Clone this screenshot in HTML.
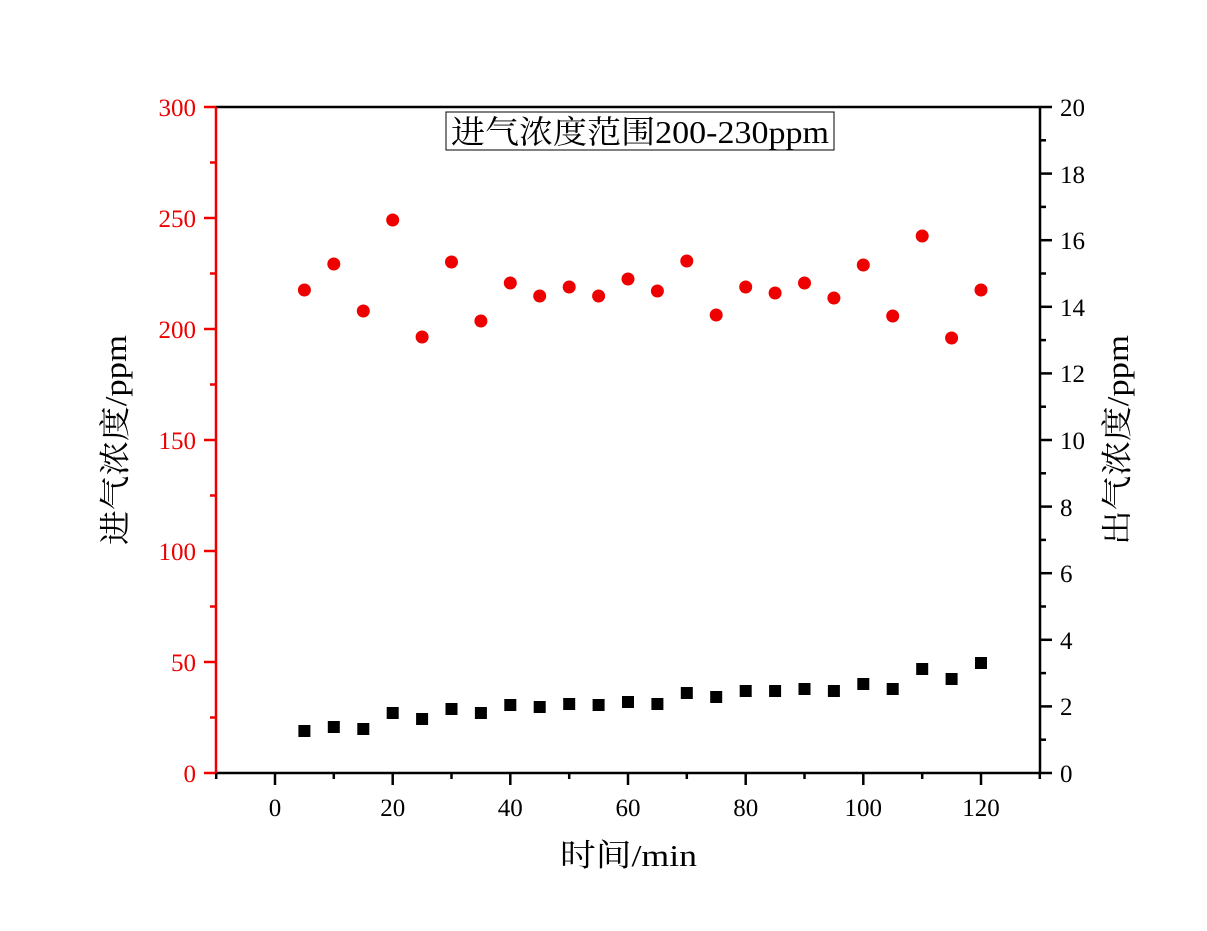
<!DOCTYPE html>
<html><head><meta charset="utf-8"><style>body{margin:0;background:#fff}</style></head><body>
<svg width="1207" height="926" xmlns="http://www.w3.org/2000/svg" font-family="Liberation Serif, Noto Serif CJK SC, serif">
<rect width="1207" height="926" fill="#fff"/>
<g stroke-width="2.5">
<line x1="216" y1="107" x2="1040" y2="107" stroke="#000"/>
<line x1="1040" y1="107" x2="1040" y2="773" stroke="#000"/>
<line x1="216" y1="773" x2="1040" y2="773" stroke="#000"/>
<line x1="216" y1="107" x2="216" y2="773" stroke="#e00"/>
</g>
<g id="ticks" stroke-width="2.5">
<g stroke="#e00">
<line x1="204" y1="773" x2="216" y2="773"/><line x1="204" y1="662" x2="216" y2="662"/><line x1="204" y1="551" x2="216" y2="551"/><line x1="204" y1="440" x2="216" y2="440"/><line x1="204" y1="329" x2="216" y2="329"/><line x1="204" y1="218" x2="216" y2="218"/><line x1="204" y1="107" x2="216" y2="107"/>
<line x1="210" y1="717.5" x2="216" y2="717.5"/><line x1="210" y1="606.5" x2="216" y2="606.5"/><line x1="210" y1="495.5" x2="216" y2="495.5"/><line x1="210" y1="384.5" x2="216" y2="384.5"/><line x1="210" y1="273.5" x2="216" y2="273.5"/><line x1="210" y1="162.5" x2="216" y2="162.5"/>
</g>
<g stroke="#000">
<line x1="1040" y1="773" x2="1052" y2="773"/><line x1="1040" y1="706.4" x2="1052" y2="706.4"/><line x1="1040" y1="639.8" x2="1052" y2="639.8"/><line x1="1040" y1="573.2" x2="1052" y2="573.2"/><line x1="1040" y1="506.6" x2="1052" y2="506.6"/><line x1="1040" y1="440" x2="1052" y2="440"/><line x1="1040" y1="373.4" x2="1052" y2="373.4"/><line x1="1040" y1="306.8" x2="1052" y2="306.8"/><line x1="1040" y1="240.2" x2="1052" y2="240.2"/><line x1="1040" y1="173.6" x2="1052" y2="173.6"/><line x1="1040" y1="107" x2="1052" y2="107"/>
<line x1="1040" y1="739.7" x2="1046" y2="739.7"/><line x1="1040" y1="673.1" x2="1046" y2="673.1"/><line x1="1040" y1="606.5" x2="1046" y2="606.5"/><line x1="1040" y1="539.9" x2="1046" y2="539.9"/><line x1="1040" y1="473.3" x2="1046" y2="473.3"/><line x1="1040" y1="406.7" x2="1046" y2="406.7"/><line x1="1040" y1="340.1" x2="1046" y2="340.1"/><line x1="1040" y1="273.5" x2="1046" y2="273.5"/><line x1="1040" y1="206.9" x2="1046" y2="206.9"/><line x1="1040" y1="140.3" x2="1046" y2="140.3"/>
<line x1="275" y1="773" x2="275" y2="785"/><line x1="392.7" y1="773" x2="392.7" y2="785"/><line x1="510.3" y1="773" x2="510.3" y2="785"/><line x1="628" y1="773" x2="628" y2="785"/><line x1="745.7" y1="773" x2="745.7" y2="785"/><line x1="863.3" y1="773" x2="863.3" y2="785"/><line x1="981" y1="773" x2="981" y2="785"/>
<line x1="216.2" y1="773" x2="216.2" y2="779"/><line x1="333.8" y1="773" x2="333.8" y2="779"/><line x1="451.5" y1="773" x2="451.5" y2="779"/><line x1="569.2" y1="773" x2="569.2" y2="779"/><line x1="686.8" y1="773" x2="686.8" y2="779"/><line x1="804.5" y1="773" x2="804.5" y2="779"/><line x1="922.2" y1="773" x2="922.2" y2="779"/><line x1="1039.8" y1="773" x2="1039.8" y2="779"/>
</g></g>
<g font-size="25" fill="#e00" text-anchor="end">
<text x="196" y="782">0</text><text x="196" y="671">50</text><text x="196" y="560">100</text><text x="196" y="449">150</text><text x="196" y="338">200</text><text x="196" y="227">250</text><text x="196" y="116">300</text>
</g>
<g font-size="25" fill="#000" text-anchor="start">
<text x="1060" y="782">0</text><text x="1060" y="715">2</text><text x="1060" y="649">4</text><text x="1060" y="582">6</text><text x="1060" y="516">8</text><text x="1060" y="449">10</text><text x="1060" y="382">12</text><text x="1060" y="316">14</text><text x="1060" y="249">16</text><text x="1060" y="183">18</text><text x="1060" y="116">20</text>
</g>
<g font-size="25" fill="#000" text-anchor="middle">
<text x="275" y="816">0</text><text x="392.7" y="816">20</text><text x="510.3" y="816">40</text><text x="628" y="816">60</text><text x="745.7" y="816">80</text><text x="863.3" y="816">100</text><text x="981" y="816">120</text>
</g>
<text x="560" y="866" font-size="31" textLength="137" lengthAdjust="spacingAndGlyphs">时间/min</text>
<text transform="translate(126,545) rotate(-90)" font-size="31" textLength="210" lengthAdjust="spacingAndGlyphs">进气浓度/ppm</text>
<text transform="translate(1128,545) rotate(-90)" font-size="31" textLength="210" lengthAdjust="spacingAndGlyphs">出气浓度/ppm</text>
<rect x="446" y="112" width="388" height="38" fill="#fff" stroke="#000" stroke-width="1"/>
<text x="451" y="143" font-size="32" textLength="378" lengthAdjust="spacingAndGlyphs">进气浓度范围200-230ppm</text>
<g fill="#e00">
<circle cx="304.4" cy="290" r="6.5"/><circle cx="333.8" cy="264" r="6.5"/><circle cx="363.3" cy="311" r="6.5"/><circle cx="392.7" cy="220" r="6.5"/><circle cx="422.1" cy="337" r="6.5"/><circle cx="451.5" cy="262" r="6.5"/><circle cx="480.9" cy="321" r="6.5"/><circle cx="510.3" cy="283" r="6.5"/><circle cx="539.7" cy="296" r="6.5"/><circle cx="569.2" cy="287" r="6.5"/><circle cx="598.6" cy="296" r="6.5"/><circle cx="628" cy="279" r="6.5"/><circle cx="657.4" cy="291" r="6.5"/><circle cx="686.8" cy="261" r="6.5"/><circle cx="716.2" cy="315" r="6.5"/><circle cx="745.7" cy="287" r="6.5"/><circle cx="775.1" cy="293" r="6.5"/><circle cx="804.5" cy="283" r="6.5"/><circle cx="833.9" cy="298" r="6.5"/><circle cx="863.3" cy="265" r="6.5"/><circle cx="892.7" cy="316" r="6.5"/><circle cx="922.2" cy="236" r="6.5"/><circle cx="951.6" cy="338" r="6.5"/><circle cx="981" cy="290" r="6.5"/>
</g>
<g fill="#000">
<rect x="298.4" y="725" width="12" height="12"/><rect x="327.8" y="721" width="12" height="12"/><rect x="357.3" y="723" width="12" height="12"/><rect x="386.7" y="707" width="12" height="12"/><rect x="416.1" y="713" width="12" height="12"/><rect x="445.5" y="703" width="12" height="12"/><rect x="474.9" y="707" width="12" height="12"/><rect x="504.3" y="699" width="12" height="12"/><rect x="533.7" y="701" width="12" height="12"/><rect x="563.2" y="698" width="12" height="12"/><rect x="592.6" y="699" width="12" height="12"/><rect x="622" y="696" width="12" height="12"/><rect x="651.4" y="698" width="12" height="12"/><rect x="680.8" y="687" width="12" height="12"/><rect x="710.2" y="691" width="12" height="12"/><rect x="739.7" y="685" width="12" height="12"/><rect x="769.1" y="685" width="12" height="12"/><rect x="798.5" y="683" width="12" height="12"/><rect x="827.9" y="685" width="12" height="12"/><rect x="857.3" y="678" width="12" height="12"/><rect x="886.7" y="683" width="12" height="12"/><rect x="916.2" y="663" width="12" height="12"/><rect x="945.6" y="673" width="12" height="12"/><rect x="975" y="657" width="12" height="12"/>
</g>
</svg>
</body></html>
